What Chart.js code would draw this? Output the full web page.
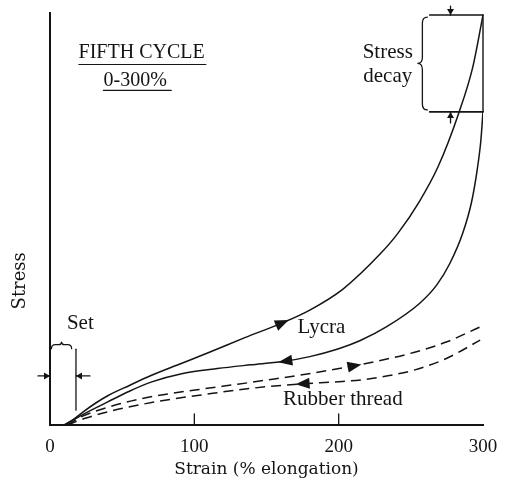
<!DOCTYPE html>
<html><head><meta charset="utf-8">
<script src="https://cdn.jsdelivr.net/npm/chart.js@4.4.1/dist/chart.umd.min.js"></script>
<style>html,body{margin:0;padding:0;background:#fff;}#wrap{width:505px;height:483px;}</style>
</head><body><div id="wrap"><canvas id="c" width="505" height="483"></canvas></div>
<script>
// ---- data (strain %, stress in arbitrary units) ----
const xTickValues = [0, 100, 200, 300];
const xInnerTicks = [100, 200];

const lycraLoadStrain   = [10, 16, 23, 32, 40, 55, 70, 90, 110, 135, 161, 180, 203, 229, 241, 256, 269, 283, 293, 300];
const lycraLoadStress   = [0, 1.3, 3.2, 5.4, 7.1, 9.6, 12, 14.8, 17.6, 21.2, 24.8, 27.9, 33, 41.6, 46.5, 54.3, 62.8, 75.5, 87, 99.5];

const lycraUnloadStrain = [10, 23, 40, 55, 70, 92, 116, 139, 161, 180, 200, 215, 233, 256, 268, 277, 286, 292, 296, 298.5, 300];
const lycraUnloadStress = [0, 2.6, 5.6, 8.2, 10.4, 12.5, 13.7, 14.6, 15.4, 16.6, 18.5, 20.5, 23.8, 29.5, 34, 39.2, 46.6, 54, 62, 69, 76];

const rubberLoadStrain   = [12, 23, 40, 62, 85, 109, 130, 150, 182, 217, 252, 275, 298];
const rubberLoadStress   = [0, 2.2, 4.3, 6.3, 7.7, 8.9, 9.9, 10.9, 12.6, 14.8, 17.6, 20.2, 23.8];

const rubberUnloadStrain = [12, 25, 40, 62, 85, 109, 130, 150, 175, 200, 217, 235, 252, 275, 298];
const rubberUnloadStress = [0, 1.7, 3.2, 4.9, 6.3, 7.5, 8.5, 9.3, 10, 10.5, 11, 12, 13.3, 16.2, 20.6];

const peakStress = 99.5;     // stress at 300 % before decay
const decayedStress = 76;    // stress after decay
const setStrain = 18;        // permanent set

// direction arrows: dataset index, strain, direction (+1 = increasing strain)
const arrowDataset = [0, 1, 2, 3];
const arrowStrain  = [161, 163, 211, 175];
const arrowDir     = [1, -1, 1, -1];

function pts(xs, ys) { return xs.map((x, i) => ({x: x, y: ys[i]})); }

const INK = '#141414';
const serif = '"Liberation Serif", "Times New Roman", serif';
const serif2 = '"DejaVu Serif", serif';

function bez(p0, c1, c2, p1, t) {
  const u = 1 - t;
  return u*u*u*p0 + 3*u*u*t*c1 + 3*u*t*t*c2 + t*t*t*p1;
}

const annot = {
  id: 'annot',
  afterDatasetsDraw(chart) {
    const ctx = chart.ctx, xs = chart.scales.x, ys = chart.scales.y;
    const X = v => xs.getPixelForValue(v), Y = v => ys.getPixelForValue(v);
    ctx.save();
    ctx.strokeStyle = INK; ctx.fillStyle = INK; ctx.lineCap = 'round';

    // direction arrows along curves
    arrowDataset.forEach((di, k) => {
      const meta = chart.getDatasetMeta(di);
      const px = X(arrowStrain[k]);
      const d = meta.data;
      for (let i = 0; i < d.length - 1; i++) {
        const a = d[i], b = d[i+1];
        if (px >= a.x && px <= b.x) {
          const c1x = a.cp2x ?? a.x, c1y = a.cp2y ?? a.y, c2x = b.cp1x ?? b.x, c2y = b.cp1y ?? b.y;
          let lo = 0, hi = 1;
          for (let it = 0; it < 40; it++) {
            const m = (lo + hi) / 2;
            if (bez(a.x, c1x, c2x, b.x, m) < px) lo = m; else hi = m;
          }
          const t = (lo + hi) / 2, e = 0.01;
          const x = bez(a.x, c1x, c2x, b.x, t), y = bez(a.y, c1y, c2y, b.y, t);
          const x2 = bez(a.x, c1x, c2x, b.x, Math.min(1, t+e)), y2 = bez(a.y, c1y, c2y, b.y, Math.min(1, t+e));
          const x1 = bez(a.x, c1x, c2x, b.x, Math.max(0, t-e)), y1 = bez(a.y, c1y, c2y, b.y, Math.max(0, t-e));
          let ang = Math.atan2(y2 - y1, x2 - x1);
          if (arrowDir[k] < 0) ang += Math.PI;
          ctx.save();
          ctx.translate(x, y); ctx.rotate(ang);
          ctx.beginPath();
          ctx.moveTo(7, 0); ctx.lineTo(-7, -5.5); ctx.lineTo(-7, 5.5); ctx.closePath();
          ctx.fill();
          ctx.restore();
          break;
        }
      }
    });

    // inner tick marks on x axis
    ctx.lineWidth = 1.3;
    xInnerTicks.forEach(v => {
      ctx.beginPath(); ctx.moveTo(X(v), Y(0)); ctx.lineTo(X(v), Y(0) - 11); ctx.stroke();
    });

    // title block
    ctx.textAlign = 'center'; ctx.textBaseline = 'middle';
    ctx.font = '20px ' + serif;
    ctx.fillText('FIFTH CYCLE', X(63.5), Y(90.4));
    ctx.fillText('0-300%', X(59), Y(83.6));
    ctx.lineWidth = 1.2;
    ctx.beginPath(); ctx.moveTo(X(20), Y(87.5)); ctx.lineTo(X(108), Y(87.5)); ctx.stroke();
    ctx.beginPath(); ctx.moveTo(X(37), Y(81.2)); ctx.lineTo(X(84), Y(81.2)); ctx.stroke();

    // curve labels
    ctx.font = '21px ' + serif;
    ctx.textAlign = 'left';
    ctx.fillText('Lycra', X(171.5), Y(23.6));
    ctx.fillText('Rubber thread', X(161.5), Y(6.1));

    // stress decay box
    ctx.lineWidth = 1.6;
    const xb = X(263), xr = X(300);
    ctx.beginPath(); ctx.moveTo(xb, Y(peakStress)); ctx.lineTo(xr, Y(peakStress)); ctx.stroke();
    ctx.beginPath(); ctx.moveTo(xb, Y(decayedStress)); ctx.lineTo(xr, Y(decayedStress)); ctx.stroke();
    ctx.lineWidth = 1.4;
    ctx.beginPath(); ctx.moveTo(xr, Y(peakStress)); ctx.lineTo(xr, Y(decayedStress)); ctx.stroke();
    // small arrows onto the lines
    const xa = X(277.5);
    function smallArrow(x, yFrom, yTo) {
      ctx.lineWidth = 1.3;
      ctx.beginPath(); ctx.moveTo(x, yFrom); ctx.lineTo(x, yTo); ctx.stroke();
      const s = Math.sign(yTo - yFrom);
      ctx.beginPath(); ctx.moveTo(x, yTo); ctx.lineTo(x - 3.5, yTo - s*6); ctx.lineTo(x + 3.5, yTo - s*6); ctx.closePath(); ctx.fill();
    }
    smallArrow(xa, Y(peakStress) - 9, Y(peakStress));
    smallArrow(xa, Y(decayedStress) + 11, Y(decayedStress));
    // curly brace (vertical, tip to the left)
    const bx = X(258), bt = Y(peakStress) + 2, bb = Y(decayedStress) - 2, bm = (bt + bb) / 2;
    ctx.lineWidth = 1.3;
    ctx.beginPath();
    ctx.moveTo(bx + 5, bt);
    ctx.quadraticCurveTo(bx, bt, bx, bt + 6);
    ctx.lineTo(bx, bm - 6);
    ctx.quadraticCurveTo(bx, bm, bx - 5, bm);
    ctx.quadraticCurveTo(bx, bm, bx, bm + 6);
    ctx.lineTo(bx, bb - 6);
    ctx.quadraticCurveTo(bx, bb, bx + 5, bb);
    ctx.stroke();
    ctx.textAlign = 'center';
    ctx.font = '21px ' + serif;
    ctx.fillText('Stress', X(234), Y(90.3));
    ctx.fillText('decay', X(234), Y(84.6));

    // set annotation
    ctx.fillText('Set', X(21), Y(24.6));
    const sx0 = X(1), sx1 = X(15), sy = Y(19.5), sm = (sx0 + sx1) / 2;
    ctx.lineWidth = 1.2;
    ctx.beginPath();
    ctx.moveTo(sx0, sy + 4);
    ctx.quadraticCurveTo(sx0, sy, sx0 + 4, sy);
    ctx.lineTo(sm - 3, sy);
    ctx.quadraticCurveTo(sm, sy, sm, sy - 3);
    ctx.quadraticCurveTo(sm, sy, sm + 3, sy);
    ctx.lineTo(sx1 - 4, sy);
    ctx.quadraticCurveTo(sx1, sy, sx1, sy + 4);
    ctx.stroke();
    ctx.lineWidth = 1.3;
    ctx.beginPath(); ctx.moveTo(X(setStrain), Y(18.4)); ctx.lineTo(X(setStrain), Y(3.6)); ctx.stroke();
    const ay = Y(11.9);
    function hArrow(xFrom, xTo) {
      ctx.beginPath(); ctx.moveTo(xFrom, ay); ctx.lineTo(xTo, ay); ctx.stroke();
      const s = Math.sign(xTo - xFrom);
      ctx.beginPath(); ctx.moveTo(xTo, ay); ctx.lineTo(xTo - s*6, ay - 3.5); ctx.lineTo(xTo - s*6, ay + 3.5); ctx.closePath(); ctx.fill();
    }
    hArrow(X(0) - 12, X(0));
    hArrow(X(setStrain) + 14, X(setStrain));

    // y axis title
    ctx.save();
    ctx.translate(20, Y(35));
    ctx.rotate(-Math.PI / 2);
    ctx.font = '18px ' + serif2;
    ctx.textAlign = 'center'; ctx.textBaseline = 'middle';
    ctx.fillText('Stress', 0, 0);
    ctx.restore();

    ctx.restore();
  }
};

const lineBase = {borderColor: INK, borderWidth: 1.5, pointRadius: 0, fill: false, cubicInterpolationMode: 'monotone'};

new Chart(document.getElementById('c'), {
  type: 'line',
  data: {
    datasets: [
      Object.assign({label: 'Lycra (extension)', data: pts(lycraLoadStrain, lycraLoadStress)}, lineBase),
      Object.assign({label: 'Lycra (recovery)', data: pts(lycraUnloadStrain, lycraUnloadStress)}, lineBase),
      Object.assign({label: 'Rubber thread (extension)', data: pts(rubberLoadStrain, rubberLoadStress), borderDash: [10, 6]}, lineBase),
      Object.assign({label: 'Rubber thread (recovery)', data: pts(rubberUnloadStrain, rubberUnloadStress), borderDash: [10, 6]}, lineBase)
    ]
  },
  options: {
    responsive: false,
    animation: false,
    devicePixelRatio: 1,
    layout: {padding: {left: 0, right: 22, top: 13, bottom: 0}},
    plugins: {legend: {display: false}, tooltip: {enabled: false}},
    scales: {
      x: {
        type: 'linear', min: 0, max: 300,
        afterBuildTicks: s => { s.ticks = xTickValues.map(v => ({value: v})); },
        afterFit: s => { s.height = 58; },
        grid: {display: false},
        border: {display: true, color: INK, width: 2},
        ticks: {color: INK, font: {family: serif, size: 19}, padding: 3, maxRotation: 0},
        title: {display: true, text: 'Strain (% elongation)', color: INK, font: {family: serif2, size: 17}, padding: {bottom: 3}}
      },
      y: {
        type: 'linear', min: 0, max: 100,
        afterFit: s => { s.width = 50; },
        grid: {display: false},
        border: {display: true, color: INK, width: 2},
        ticks: {display: false}
      }
    }
  },
  plugins: [annot]
});
</script>
</body></html>
